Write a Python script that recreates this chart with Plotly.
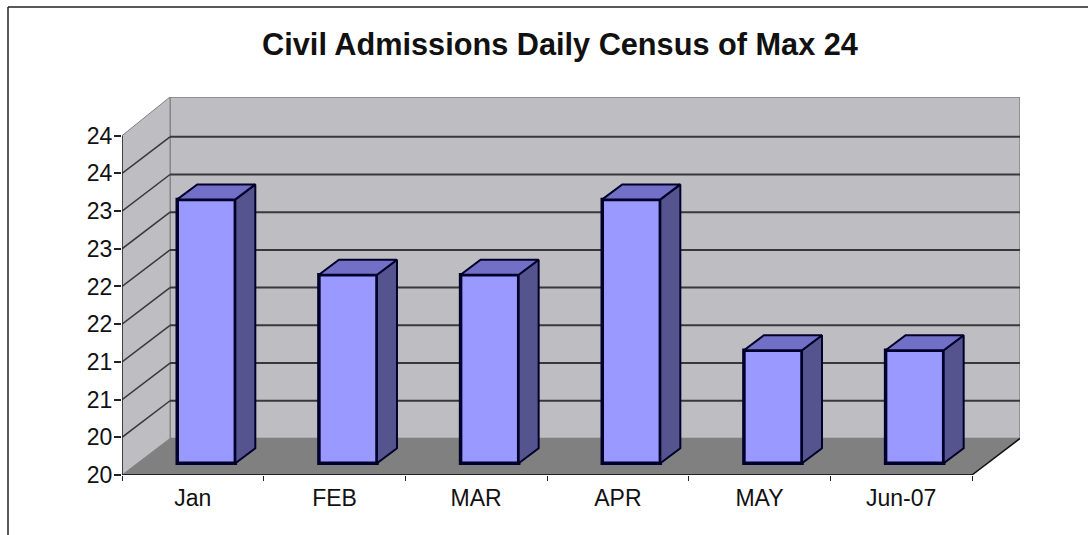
import plotly.graph_objects as go

categories = ["Jan", "FEB", "MAR", "APR", "MAY", "Jun-07"]
census = [23, 22, 22, 23, 21, 21]
y_ticks = [19.5, 20, 20.5, 21, 21.5, 22, 22.5, 23, 23.5, 24]
y_tick_labels = ["20", "20", "21", "21", "22", "22", "23", "23", "24", "24"]

TITLE = "Civil Admissions Daily Census of Max 24"
FONT = "Liberation Sans"
W, H = 1088, 535
ML, MR, MT, MB = 122, 68, 97, 60

# oblique projection, in axis units
Y0, Y1 = y_ticks[0], y_ticks[-1]
X0, X1 = -0.5, len(categories) - 0.5
DX, DY = 0.339, 0.485            # wall depth
XMAX = X0 + (W - ML - MR) / 141.67
YMAX = Y1 + 0.513
BAR_W = 0.41
OX, OY = 0.095, 0.155            # bar front plane offset
BDX, BDY = 0.141, 0.199          # bar depth

WALL = "#BEBDC2"
FLOOR = "#808080"
EDGE = "#808080"
GRID = "#38383a"
FRONT = "#9999FF"
SIDE = "#56548F"
TOP = "#7270C6"
OUT = "#00002A"


def poly(pts):
    return "M" + " L".join(f"{x},{y}" for x, y in pts) + " Z"


shapes = [
    dict(type="path", layer="below", fillcolor=WALL, line=dict(color=EDGE, width=1.5),
         path=poly([(X0 + DX, Y0 + DY), (X1 + DX, Y0 + DY), (X1 + DX, YMAX), (X0 + DX, YMAX)])),
    dict(type="path", layer="below", fillcolor=WALL, line=dict(color=EDGE, width=1),
         path=poly([(X0, Y0), (X0 + DX, Y0 + DY), (X0 + DX, YMAX), (X0, Y1)])),
]
for t in y_ticks[1:-1]:
    shapes.append(dict(type="line", layer="below", x0=X0, y0=t, x1=X0 + DX, y1=t + DY,
                       line=dict(color=GRID, width=1.5)))
    shapes.append(dict(type="line", layer="below", x0=X0 + DX, y0=t + DY, x1=X1 + DX, y1=t + DY,
                       line=dict(color=GRID, width=2)))
shapes += [
    dict(type="path", layer="below", fillcolor=FLOOR, line=dict(width=0),
         path=poly([(X0, Y0), (X1, Y0), (X1 + DX, Y0 + DY), (X0 + DX, Y0 + DY)])),
    dict(type="line", layer="above", x0=X0, y0=Y0, x1=X0, y1=Y1, line=dict(color="#222222", width=1.5)),
    dict(type="line", layer="above", x0=X0, y0=Y0, x1=X1, y1=Y0, line=dict(color="#222222", width=2)),
    dict(type="line", layer="above", x0=X1, y0=Y0, x1=X1 + DX, y1=Y0 + DY, line=dict(color="#111111", width=1.5)),
    # frame of the picture: top and left only
    dict(type="line", layer="above", xref="paper", yref="paper", x0=(8 - ML) / (W - ML - MR), x1=(W - ML) / (W - ML - MR),
         y0=1 + (MT - 7) / (H - MT - MB), y1=1 + (MT - 7) / (H - MT - MB), line=dict(color="#222222", width=1.5)),
    dict(type="line", layer="above", xref="paper", yref="paper", x0=(8 - ML) / (W - ML - MR), x1=(8 - ML) / (W - ML - MR),
         y0=1 + (MT - 7) / (H - MT - MB), y1=-MB / (H - MT - MB), line=dict(color="#222222", width=1.5)),
]

positions = list(range(len(categories)))
fig = go.Figure()
fig.add_trace(go.Bar(
    x=[p + OX for p in positions], y=[v - Y0 for v in census], base=Y0 + OY, width=BAR_W,
    marker=dict(color=FRONT, line=dict(color=OUT, width=3.5)), hoverinfo="skip", showlegend=False,
))

side_x, side_y, top_x, top_y = [], [], [], []
for p, v in zip(positions, census):
    l, r = p + OX - BAR_W / 2, p + OX + BAR_W / 2
    b, t = Y0 + OY, v + OY
    side_x += [r, r + BDX, r + BDX, r, r, None]
    side_y += [b, b + BDY, t + BDY, t, b, None]
    top_x += [l, l + BDX, r + BDX, r, l, None]
    top_y += [t, t + BDY, t + BDY, t, t, None]
for xs, ys, c in ((side_x, side_y, SIDE), (top_x, top_y, TOP)):
    fig.add_trace(go.Scatter(x=xs, y=ys, mode="lines", fill="toself", fillcolor=c,
                             line=dict(color=OUT, width=2), hoverinfo="skip", showlegend=False))

fig.update_layout(
    width=W, height=H, margin=dict(l=ML, r=MR, t=MT, b=MB, autoexpand=False),
    autosize=False, paper_bgcolor="white", plot_bgcolor="white", shapes=shapes,
    title=dict(text=f"<b>{TITLE}</b>", x=560 / W, xanchor="center", y=1 - 44 / H, yanchor="middle",
               font=dict(family=FONT, size=30.7, color="#111111")),
    font=dict(family=FONT, color="#111111"),
    xaxis=dict(range=[X0, XMAX], tickvals=positions, ticktext=categories, ticks="", showgrid=False,
               zeroline=False, showline=False, tickfont=dict(size=23), ticklabelstandoff=7,
               minor=dict(tickvals=[p - 0.5 for p in positions] + [X1], ticks="outside", ticklen=5,
                          tickcolor="#222222", tickwidth=1, showgrid=False)),
    yaxis=dict(range=[Y0, YMAX], tickvals=y_ticks, ticktext=y_tick_labels, ticks="outside", ticklen=7,
               tickcolor="#222222", tickwidth=1.5, showgrid=False, zeroline=False, showline=False,
               tickfont=dict(size=23), ticklabelstandoff=-3),
)
fig.write_html("out.html", config={"displayModeBar": False},
               post_script="document.body.style.margin='0';document.body.style.overflow='hidden';")
